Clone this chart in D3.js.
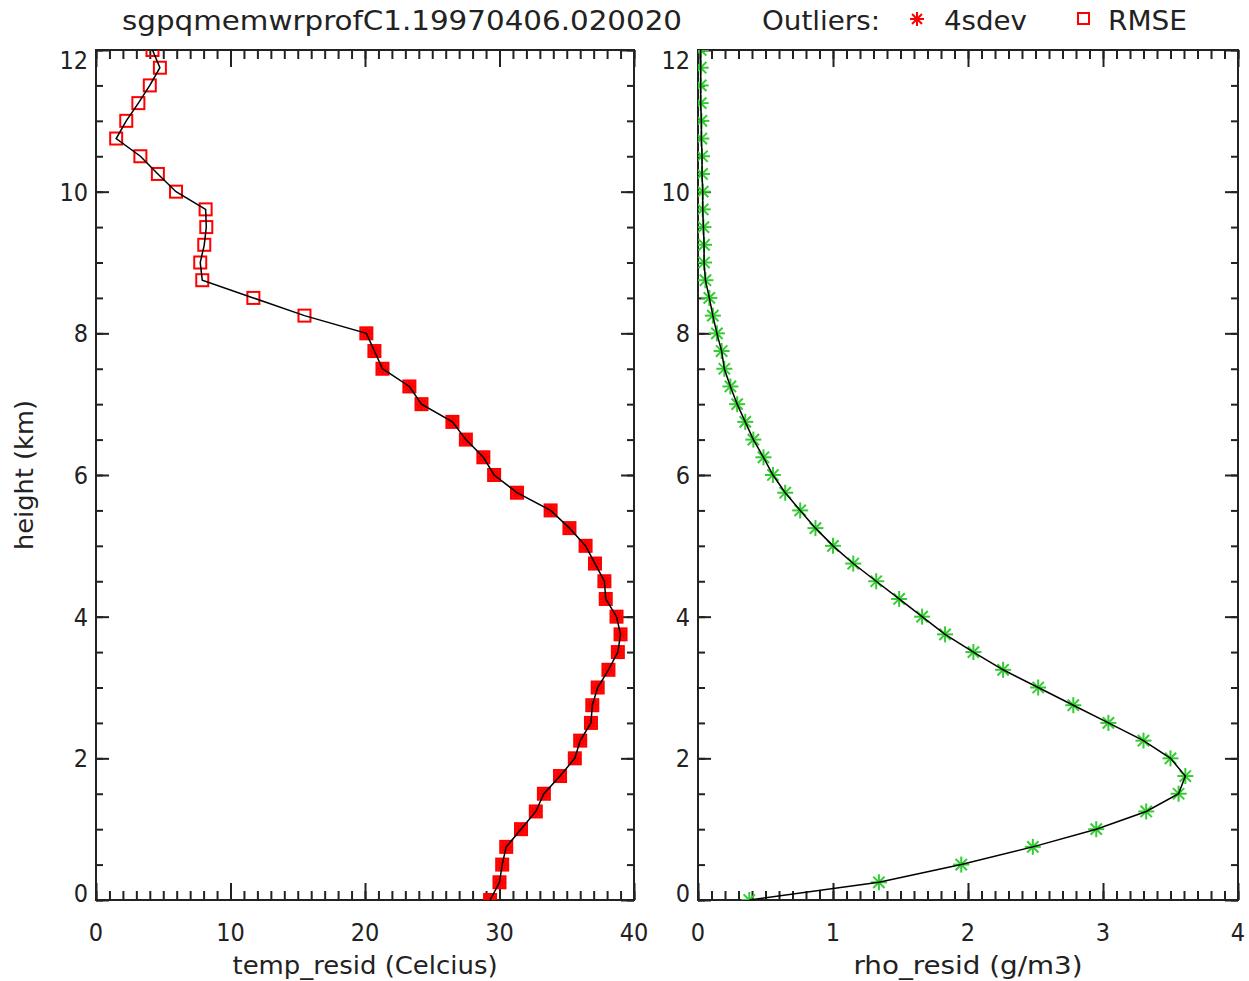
<!DOCTYPE html>
<html>
<head>
<meta charset="utf-8">
<script src="https://cdn.jsdelivr.net/npm/d3@7"></script>
<style>
  body { margin: 0; background: #fff; }
  text { font-family: "DejaVu Sans Condensed", "DejaVu Sans", sans-serif; fill: #222; }
</style>
</head>
<body>
<div id="chart"></div>
<script>
// heights (km), one profile level every 0.25 km
const heights = [0, 0.25, 0.5, 0.75, 1, 1.25, 1.5, 1.75, 2, 2.25, 2.5, 2.75, 3, 3.25, 3.5, 3.75,
  4, 4.25, 4.5, 4.75, 5, 5.25, 5.5, 5.75, 6, 6.25, 6.5, 6.75, 7, 7.25, 7.5, 7.75,
  8, 8.25, 8.5, 8.75, 9, 9.25, 9.5, 9.75, 10, 10.25, 10.5, 10.75, 11, 11.25, 11.5, 11.75, 12];

const tempResid = [29.3, 30.0, 30.2, 30.5, 31.6, 32.7, 33.3, 34.5, 35.6, 36.0, 36.8, 36.9, 37.3, 38.1, 38.8, 39.0,
  38.7, 37.9, 37.8, 37.1, 36.4, 35.2, 33.8, 31.3, 29.6, 28.8, 27.5, 26.5, 24.2, 23.3, 21.3, 20.7,
  20.1, 15.5, 11.7, 7.9, 7.75, 8.05, 8.2, 8.15, 5.95, 4.6, 3.3, 1.5, 2.25, 3.15, 4.0, 4.75, 4.2];

// 1 = flagged as 4sdev outlier too (asterisk inside the RMSE square)
const temp4sdev = [1, 1, 1, 1, 1, 1, 1, 1, 1, 1, 1, 1, 1, 1, 1, 1,
  1, 1, 1, 1, 1, 1, 1, 1, 1, 1, 1, 1, 1, 1, 1, 1,
  1, 0, 0, 0, 0, 0, 0, 0, 0, 0, 0, 0, 0, 0, 0, 0, 0];

const rhoResid = [0.38, 1.34, 1.95, 2.48, 2.95, 3.32, 3.56, 3.61, 3.50, 3.30, 3.04, 2.78, 2.52, 2.26, 2.04, 1.83,
  1.66, 1.49, 1.32, 1.15, 1.00, 0.87, 0.757, 0.646, 0.555, 0.485, 0.41, 0.35, 0.29, 0.24, 0.195, 0.175,
  0.14, 0.11, 0.084, 0.055, 0.045, 0.045, 0.04, 0.035, 0.035, 0.03, 0.03, 0.025, 0.025, 0.02, 0.02, 0.02, 0.02];

const yTicks = [0, 2, 4, 6, 8, 10, 12];
const tempTicks = [0, 10, 20, 30, 40];
const rhoTicks = [0, 1, 2, 3, 4];

const W = 1249, H = 981;
const plotTop = 50, plotBottom = 900;
const red = "#ff0000", green = "#33cc33", ink = "#222";

const svg = d3.select("#chart").append("svg")
  .attr("width", W).attr("height", H);

const y = d3.scaleLinear().domain([0, 12]).range([plotBottom, plotTop]);

function asterisk(g, cx, cy, r, color, w) {
  const a = r * 0.7071;
  [[0, -r, 0, r], [-r, 0, r, 0], [-a, -a, a, a], [-a, a, a, -a]].forEach(l => {
    g.append("line")
      .attr("x1", cx + l[0]).attr("y1", cy + l[1])
      .attr("x2", cx + l[2]).attr("y2", cy + l[3])
      .attr("stroke", color).attr("stroke-width", w);
  });
}

function panel(id, left, right, xmax, majorTicks, minorStep, values, xTitle, titleLen, drawMarks) {
  const x = d3.scaleLinear().domain([0, xmax]).range([left, right]);
  const g = svg.append("g");

  g.append("clipPath").attr("id", "clip" + id)
    .append("rect").attr("x", left).attr("y", plotTop)
    .attr("width", right - left).attr("height", plotBottom - plotTop);

  const minorX = d3.range(0, xmax + minorStep / 2, minorStep);
  const minorY = d3.range(0, 12.01, 0.5);

  const tickAxis = (axis, tr) => {
    const a = g.append("g").attr("transform", tr).call(axis);
    a.select(".domain").remove();
    a.selectAll("line").attr("stroke", ink).attr("stroke-width", 2);
    a.selectAll("text").remove();
  };
  // minor and major ticks, all pointing into the plot on all four sides
  tickAxis(d3.axisBottom(x).tickValues(minorX).tickSize(-9), `translate(0,${plotBottom})`);
  tickAxis(d3.axisBottom(x).tickValues(majorTicks).tickSize(-17), `translate(0,${plotBottom})`);
  tickAxis(d3.axisTop(x).tickValues(minorX).tickSize(-9), `translate(0,${plotTop})`);
  tickAxis(d3.axisTop(x).tickValues(majorTicks).tickSize(-17), `translate(0,${plotTop})`);
  tickAxis(d3.axisLeft(y).tickValues(minorY).tickSize(-7), `translate(${left},0)`);
  tickAxis(d3.axisLeft(y).tickValues(yTicks).tickSize(-13), `translate(${left},0)`);
  tickAxis(d3.axisRight(y).tickValues(minorY).tickSize(-7), `translate(${right},0)`);
  tickAxis(d3.axisRight(y).tickValues(yTicks).tickSize(-13), `translate(${right},0)`);

  g.append("rect").attr("x", left).attr("y", plotTop)
    .attr("width", right - left).attr("height", plotBottom - plotTop)
    .attr("fill", "none").attr("stroke", ink).attr("stroke-width", 2);

  // tick labels
  g.selectAll(".xl").data(majorTicks).enter().append("text")
    .attr("x", d => x(d)).attr("y", 941)
    .attr("text-anchor", "middle").attr("font-size", 25)
    .text(d => d);
  g.selectAll(".yl").data(yTicks).enter().append("text")
    .attr("x", left - 8)
    .attr("y", d => Math.min(Math.max(y(d), plotTop + 10), plotBottom - 7) + 9)
    .attr("text-anchor", "end").attr("font-size", 25)
    .text(d => d);

  g.append("text").attr("x", (left + right) / 2).attr("y", 974)
    .attr("text-anchor", "middle").attr("font-size", 25)
    .attr("textLength", titleLen).attr("lengthAdjust", "spacingAndGlyphs")
    .text(xTitle);

  const marks = g.append("g").attr("clip-path", `url(#clip${id})`);
  drawMarks(marks, x);

  const line = d3.line().x(d => x(d[0])).y(d => y(d[1]));
  marks.append("path")
    .datum(values.map((v, i) => [v, heights[i]]))
    .attr("d", line).attr("fill", "none")
    .attr("stroke", "#000").attr("stroke-width", 1.5);
  return g;
}

// left panel: temperature residual
panel("t", 96, 634, 40, tempTicks, 1, tempResid, "temp_resid (Celcius)", 265, (m, x) => {
  tempResid.forEach((v, i) => {
    const cx = x(v), cy = y(heights[i]);
    m.append("rect").attr("x", cx - 6).attr("y", cy - 6)
      .attr("width", 12).attr("height", 12)
      .attr("fill", temp4sdev[i] ? red : "none").attr("fill-opacity", 0.85)
      .attr("stroke", red).attr("stroke-width", 2);
    if (temp4sdev[i]) asterisk(m, cx, cy, 6, red, 3);
  });
});

// right panel: density residual
panel("r", 698, 1238, 4, rhoTicks, 0.1, rhoResid, "rho_resid (g/m3)", 229, (m, x) => {
  rhoResid.forEach((v, i) => asterisk(m, x(v), y(heights[i]), 8, green, 2));
});

// y axis title
svg.append("text")
  .attr("transform", "translate(33,475) rotate(-90)")
  .attr("text-anchor", "middle").attr("font-size", 25)
  .attr("textLength", 150).attr("lengthAdjust", "spacingAndGlyphs")
  .text("height (km)");

// title and legend
svg.append("text").attr("x", 122).attr("y", 30)
  .attr("font-size", 27).attr("textLength", 560).attr("lengthAdjust", "spacingAndGlyphs")
  .text("sgpqmemwrprofC1.19970406.020020");
svg.append("text").attr("x", 762).attr("y", 30)
  .attr("font-size", 27).attr("textLength", 118).attr("lengthAdjust", "spacingAndGlyphs")
  .text("Outliers:");
asterisk(svg.append("g"), 917, 19, 7, red, 2);
svg.append("text").attr("x", 944).attr("y", 30)
  .attr("font-size", 27).attr("textLength", 83).attr("lengthAdjust", "spacingAndGlyphs")
  .text("4sdev");
svg.append("rect").attr("x", 1078).attr("y", 13).attr("width", 11).attr("height", 11)
  .attr("fill", "none").attr("stroke", red).attr("stroke-width", 2);
svg.append("text").attr("x", 1108).attr("y", 30)
  .attr("font-size", 27).attr("textLength", 79).attr("lengthAdjust", "spacingAndGlyphs")
  .text("RMSE");
</script>
</body>
</html>
